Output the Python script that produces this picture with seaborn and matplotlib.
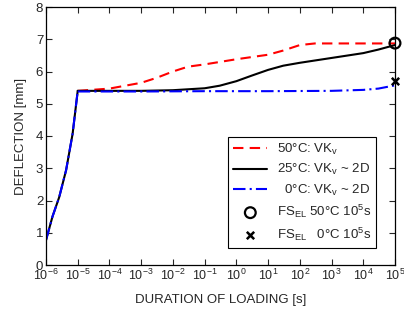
import numpy as np
import pandas as pd
import matplotlib
matplotlib.use("Agg")
import matplotlib.pyplot as plt
import seaborn as sns
from matplotlib.ticker import LogLocator, LogFormatterMathtext, NullLocator

# Data
t_rise = [1e-6, 1.6e-6, 2.6e-6, 4.3e-6, 6.9e-6, 1e-5]
d_rise = [0.77, 1.5, 2.1, 2.94, 4.07, 5.4]

t_50 = [1e-5, 1e-4, 1e-3, 3e-3, 1e-2, 3e-2, 1e-1, 1e0, 1e1, 3e1, 1e2, 3e2, 1e3, 1e4, 1e5]
d_50 = [5.4, 5.47, 5.65, 5.8, 6.0, 6.15, 6.22, 6.38, 6.52, 6.65, 6.82, 6.87, 6.87, 6.87, 6.87]

t_25 = [1e-5, 1e-4, 1e-3, 1e-2, 1e-1, 3e-1, 1e0, 3e0, 1e1, 3e1, 1e2, 1e3, 1e4, 3e4, 1e5]
d_25 = [5.4, 5.4, 5.4, 5.42, 5.48, 5.56, 5.7, 5.87, 6.05, 6.18, 6.27, 6.42, 6.57, 6.68, 6.82]

t_0 = [1e-5, 1e-3, 1e-1, 1e1, 1e3, 1e4, 3e4, 1e5]
d_0 = [5.38, 5.38, 5.39, 5.39, 5.4, 5.43, 5.47, 5.57]

t_fs = [1e5]
d_fs50 = [6.88]
d_fs0 = [5.7]

sns.set_style("ticks")
plt.rcParams['font.family'] = ['Liberation Sans', 'DejaVu Sans']
plt.rcParams['mathtext.default'] = 'regular'
plt.rcParams['xtick.direction'] = 'in'
plt.rcParams['ytick.direction'] = 'in'

FS = 9.5

fig = plt.figure(figsize=(4.04, 3.11), dpi=100)
ax = fig.add_axes([46/404, 1 - 265/311, (395-46)/404, (265-7)/311])

rise = pd.DataFrame({"t": t_rise, "d": d_rise})
sns.lineplot(data=rise, x="t", y="d", ax=ax, color="black", lw=1.5, estimator=None, sort=False)
sns.lineplot(data=rise, x="t", y="d", ax=ax, color="blue", lw=1.5, estimator=None, sort=False,
             linestyle=(0, (6, 2, 1, 2)))

sns.lineplot(x=t_50, y=d_50, ax=ax, color="red", lw=1.5, linestyle=(0, (5, 3)),
             label="50°C: VK$_v$", estimator=None)
sns.lineplot(x=t_25, y=d_25, ax=ax, color="black", lw=1.5,
             label="25°C: VK$_v$ ~ 2D", estimator=None)
sns.lineplot(x=t_0, y=d_0, ax=ax, color="blue", lw=1.5, linestyle=(0, (6, 2, 1, 2)),
             label="  0°C: VK$_v$ ~ 2D", estimator=None)
sns.scatterplot(x=t_fs, y=d_fs50, ax=ax, marker="o", s=60, facecolor="none",
                edgecolor="black", linewidth=1.6, label="FS$_{EL}$ 50°C 10$^5$s",
                zorder=5, clip_on=False)
sns.scatterplot(x=t_fs, y=d_fs0, ax=ax, marker="x", s=28, color="black",
                linewidth=1.8, label="FS$_{EL}$   0°C 10$^5$s", zorder=5, clip_on=False)

ax.set_xscale("log")
ax.set_xlim(1e-6, 1e5)
ax.set_ylim(0, 8)
ax.xaxis.set_major_locator(LogLocator(base=10, numticks=20))
ax.xaxis.set_major_formatter(LogFormatterMathtext())
ax.xaxis.set_minor_locator(NullLocator())
ax.set_yticks(range(0, 9))
ax.tick_params(which="both", top=True, right=True, labelsize=FS, length=4, width=0.8, pad=2)
ax.tick_params(axis="x", labelsize=9)
for s in ax.spines.values():
    s.set_linewidth(0.9)
    s.set_color("black")
ax.set_xlabel("DURATION OF LOADING [s]", fontsize=FS, labelpad=8)
ax.set_ylabel("DEFLECTION [mm]", fontsize=FS, labelpad=6)

leg = ax.legend(loc="lower right", bbox_to_anchor=(0.965, 0.04), fontsize=FS,
                frameon=True, fancybox=False, edgecolor="black", framealpha=1,
                handlelength=2.6, borderpad=0.4, labelspacing=0.4, handletextpad=0.7)
leg.get_frame().set_linewidth(0.8)

fig.savefig("out.png", dpi=100)
